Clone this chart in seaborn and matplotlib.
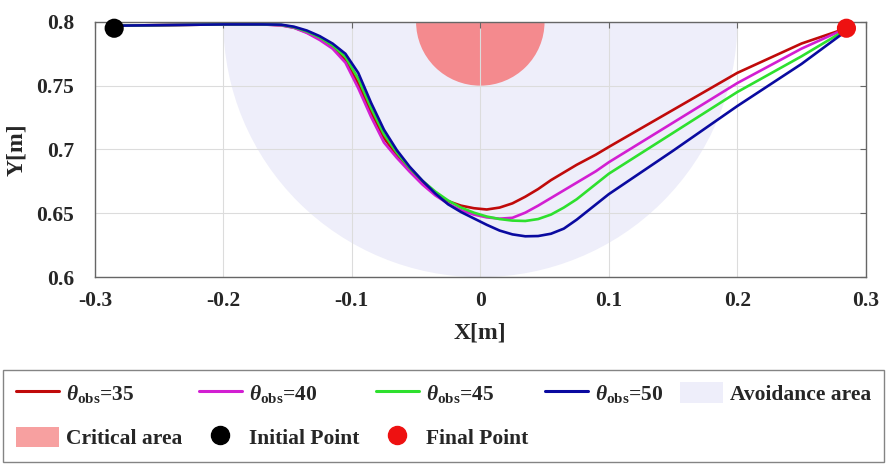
import numpy as np
import pandas as pd

import matplotlib
matplotlib.use("Agg")
import matplotlib.pyplot as plt
from matplotlib.patches import Circle, Patch
from matplotlib.lines import Line2D
import seaborn as sns

# ==========================================
# DATA
# ==========================================

x_path = [-0.285, -0.2, -0.17, -0.155, -0.145, -0.135, -0.125, -0.115,
          -0.105, -0.095, -0.085, -0.075, -0.065, -0.055, -0.045, -0.035,
          -0.025, -0.015, -0.005, 0.005, 0.015, 0.025, 0.035, 0.045, 0.055,
          0.065, 0.075, 0.09, 0.1, 0.15, 0.2, 0.25, 0.285]

y_35 = [0.797, 0.798, 0.798, 0.7974, 0.7955, 0.7918, 0.7866, 0.780,
        0.770, 0.7515, 0.729, 0.709, 0.6955, 0.684, 0.674, 0.6655,
        0.6595, 0.656, 0.654, 0.653, 0.6545, 0.6578, 0.663, 0.669, 0.676,
        0.682, 0.688, 0.696, 0.702, 0.731, 0.760, 0.783, 0.795]

y_40 = [0.797, 0.798, 0.798, 0.7972, 0.7953, 0.7913, 0.7858, 0.779,
        0.768, 0.748, 0.7255, 0.7055, 0.6935, 0.6826, 0.6725, 0.664,
        0.6575, 0.6525, 0.649, 0.6468, 0.6458, 0.6465, 0.6505, 0.656, 0.662,
        0.668, 0.674, 0.683, 0.690, 0.721, 0.752, 0.779, 0.795]

y_45 = [0.797, 0.798, 0.798, 0.7976, 0.7958, 0.7925, 0.7878, 0.7815,
        0.7725, 0.7555, 0.7325, 0.712, 0.6975, 0.6855, 0.6755, 0.667,
        0.660, 0.6545, 0.6505, 0.6475, 0.6455, 0.6443, 0.644, 0.6455, 0.649,
        0.6545, 0.661, 0.673, 0.681, 0.713, 0.745, 0.773, 0.794]

y_50 = [0.797, 0.798, 0.798, 0.7978, 0.7962, 0.7932, 0.7888, 0.783,
        0.775, 0.760, 0.7365, 0.7155, 0.6995, 0.6865, 0.6755, 0.6655,
        0.657, 0.651, 0.646, 0.641, 0.6365, 0.6335, 0.632, 0.6322, 0.634,
        0.638, 0.645, 0.657, 0.665, 0.699, 0.734, 0.767, 0.793]

theta_values = [35, 40, 45, 50]
line_colors = ["#c00a0a", "#d21ed2", "#2ee02e", "#0a0aa0"]

initial_point = (-0.285, 0.795)
final_point = (0.285, 0.795)

obstacle_center = (0.0, 0.8)
critical_radius = 0.05
avoidance_radius = 0.2

x_ticks = [-0.3, -0.2, -0.1, 0, 0.1, 0.2, 0.3]
x_tick_labels = ["-0.3", "-0.2", "-0.1", "0", "0.1", "0.2", "0.3"]
y_ticks = [0.6, 0.65, 0.7, 0.75, 0.8]
y_tick_labels = ["0.6", "0.65", "0.7", "0.75", "0.8"]

# ==========================================
# LONG TABLE FOR SEABORN
# ==========================================

frames = []
for theta, ys in zip(theta_values, [y_35, y_40, y_45, y_50]):
    frames.append(pd.DataFrame({
        "x": x_path,
        "y": ys,
        "theta": str(theta)
    }))
df = pd.concat(frames, ignore_index=True)

# ==========================================
# STYLE
# ==========================================

sns.set_style("white")
plt.rcParams["font.family"] = ["Liberation Serif", "DejaVu Serif"]
plt.rcParams["font.weight"] = "bold"
plt.rcParams["mathtext.fontset"] = "custom"
plt.rcParams["mathtext.rm"] = "Liberation Serif:bold"
plt.rcParams["mathtext.bf"] = "Liberation Serif:bold"
plt.rcParams["mathtext.it"] = "Liberation Serif:bold:italic"

fig = plt.figure(figsize=(8.87, 4.65), dpi=100)
ax = fig.add_axes([0.107, 0.404, 0.869, 0.549])

# ==========================================
# AREAS
# ==========================================

avoid = Circle(obstacle_center, avoidance_radius, facecolor="#eeeefa",
               edgecolor="none", zorder=1)
critical = Circle(obstacle_center, critical_radius, facecolor="#f48a8e",
                  edgecolor="none", zorder=1.2)
ax.add_patch(avoid)
ax.add_patch(critical)

# ==========================================
# PATHS
# ==========================================

sns.lineplot(
    data=df,
    x="x",
    y="y",
    hue="theta",
    palette=line_colors,
    sort=False,
    estimator=None,
    linewidth=1.9,
    legend=False,
    ax=ax,
    zorder=3
)

sns.scatterplot(x=[initial_point[0]], y=[initial_point[1]], color="black",
                s=190, edgecolor="none", ax=ax, zorder=4, clip_on=False)
sns.scatterplot(x=[final_point[0]], y=[final_point[1]], color="#ee1111",
                s=190, edgecolor="none", ax=ax, zorder=4, clip_on=False)

# ==========================================
# AXES
# ==========================================

ax.set_xlim(-0.3, 0.3)
ax.set_ylim(0.6, 0.8)
ax.set_xticks(x_ticks)
ax.set_xticklabels(x_tick_labels)
ax.set_yticks(y_ticks)
ax.set_yticklabels(y_tick_labels)
ax.tick_params(direction="in", top=True, right=True, length=4,
               color="#666666", labelsize=15.5)
ax.tick_params(axis="x", pad=10)
ax.tick_params(axis="y", pad=15)
ax.set_axisbelow("line")
ax.grid(True, color="#dcdcdc", linewidth=0.8)
for spine in ax.spines.values():
    spine.set_color("#666666")
    spine.set_linewidth(1.0)

ax.set_xlabel("X[m]", fontsize=17, fontweight="bold", labelpad=8)
ax.set_ylabel("Y[m]", fontsize=17, fontweight="bold", labelpad=7)

# ==========================================
# LEGEND
# ==========================================

line_handles = [
    Line2D([0], [0], color=c, linewidth=2.2)
    for c in line_colors
]
line_labels = [r"$\theta_{\mathrm{obs}}$=%d" % t for t in theta_values]

avoid_handle = Patch(facecolor="#eeeefa", edgecolor="none")
critical_handle = Patch(facecolor="#f7a0a0", edgecolor="none")
init_handle = Line2D([0], [0], marker="o", linestyle="none",
                     markerfacecolor="black", markeredgecolor="black",
                     markersize=13)
final_handle = Line2D([0], [0], marker="o", linestyle="none",
                      markerfacecolor="#ee1111", markeredgecolor="#ee1111",
                      markersize=13)

handles = [line_handles[0], critical_handle,
           line_handles[1], init_handle,
           line_handles[2], final_handle,
           line_handles[3],
           avoid_handle]
labels = [line_labels[0], "Critical area",
          line_labels[1], "Initial Point",
          line_labels[2], "Final Point",
          line_labels[3],
          "Avoidance area"]

leg = fig.legend(
    handles,
    labels,
    ncol=5,
    loc="lower left",
    bbox_to_anchor=(0.003, 0.006, 0.994, 0.19),
    mode="expand",
    frameon=True,
    fancybox=False,
    edgecolor="#666666",
    prop={"family": "Liberation Serif", "weight": "bold", "size": 15.5},
    handlelength=2.0,
    handleheight=1.1,
    handletextpad=0.35,
    columnspacing=0.5,
    borderaxespad=0.0,
    borderpad=0.6,
    labelspacing=1.0
)
leg.get_frame().set_linewidth(1.0)

plt.savefig("out.png", dpi=100)
plt.close()
